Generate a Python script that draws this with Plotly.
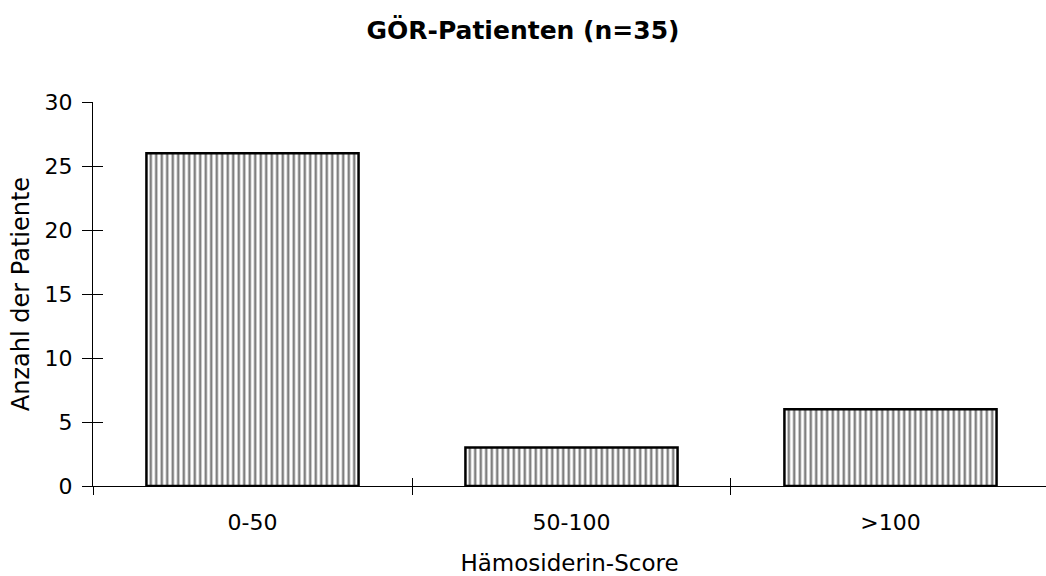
import plotly.graph_objects as go

categories = ["0-50", "50-100", ">100"]
counts = [26, 3, 6]
y_ticks = [0, 5, 10, 15, 20, 25, 30]

FONT = "DejaVu Sans"

fig = go.Figure()
fig.add_trace(go.Bar(
    x=categories, y=counts, width=0.665,
    marker=dict(color="white", line=dict(color="black", width=2.5),
                pattern=dict(shape="|", fgcolor="black", bgcolor="white", size=5.5, solidity=0.45)),
    showlegend=False,
))
# invisible trace on the overlay axes so they render
fig.add_trace(go.Scatter(x=categories, y=counts, xaxis="x2", yaxis="y2",
                         mode="markers", marker=dict(opacity=0), showlegend=False, hoverinfo="skip"))

fig.update_layout(
    width=1046, height=576,
    margin=dict(l=93, r=0, t=102, b=90),
    paper_bgcolor="white", plot_bgcolor="white",
    font=dict(family=FONT, color="black", size=21),
    title=dict(text="<b>GÖR-Patienten (n=35)</b>", x=0.5, xanchor="center", y=0.948, yanchor="middle",
               font=dict(family=FONT, size=25, color="black")),
    xaxis=dict(type="category", categoryorder="array", categoryarray=categories,
               range=[-0.5, 2.4875], tickson="boundaries", ticks="outside", ticklen=8,
               tickcolor="black", tickwidth=1, showline=True, linecolor="black", linewidth=1,
               showgrid=False, zeroline=False, ticklabelstandoff=17,
               title=dict(text="Hämosiderin-Score", standoff=20, font=dict(size=23)),
               tickfont=dict(size=22)),
    yaxis=dict(range=[0, 30], tickvals=y_ticks, ticks="outside", ticklen=10, tickcolor="black",
               tickwidth=1, showline=True, linecolor="black", linewidth=1, showgrid=False,
               zeroline=False, ticklabelstandoff=5,
               title=dict(text="Anzahl der Patiente", standoff=8, font=dict(size=24)),
               tickfont=dict(size=22)),
    xaxis2=dict(type="category", categoryorder="array", categoryarray=categories, overlaying="x",
                range=[-0.5, 2.4875], tickson="boundaries", ticks="inside", ticklen=8,
                tickcolor="black", showticklabels=False, showgrid=False, zeroline=False, showline=False),
    yaxis2=dict(range=[0, 30], tickvals=y_ticks, overlaying="y", ticks="inside", ticklen=10,
                tickcolor="black", showticklabels=False, showgrid=False, zeroline=False, showline=False),
    bargap=0.335,
)

fig.write_html("out.html")
